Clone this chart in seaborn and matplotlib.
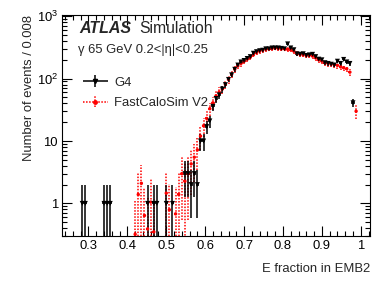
import numpy as np
import pandas as pd
import matplotlib as mpl
import matplotlib.pyplot as plt
plt.switch_backend('Agg')
import seaborn as sns
from matplotlib.lines import Line2D
from matplotlib.container import ErrorbarContainer
from matplotlib.legend_handler import HandlerErrorbar

# G4 histogram (bin centres, entries), bin width 0.008
g4_x = [0.284, 0.292, 0.340, 0.348, 0.356, 0.452, 0.468, 0.476, 0.500, 0.516,
        0.548, 0.556, 0.564, 0.572, 0.580, 0.588, 0.596, 0.604, 0.612, 0.620,
        0.628, 0.636, 0.644, 0.652, 0.660, 0.668, 0.676, 0.684, 0.692, 0.700,
        0.708, 0.716, 0.724, 0.732, 0.740, 0.748, 0.756, 0.764, 0.772, 0.780,
        0.788, 0.796, 0.804, 0.812, 0.820, 0.828, 0.836, 0.844, 0.852, 0.860,
        0.868, 0.876, 0.884, 0.892, 0.900, 0.908, 0.916, 0.924, 0.932, 0.940,
        0.948, 0.956, 0.964, 0.972, 0.980]
g4_y = [1, 1, 1, 1, 1, 1, 1, 1, 1, 1,
        3, 3, 2, 3, 2, 10, 10, 17, 21, 36,
        48, 55, 68, 80, 97, 115, 141, 165, 185, 195,
        210, 225, 255, 270, 280, 285, 300, 300, 310, 310,
        310, 305, 300, 360, 310, 290, 250, 245, 250, 235,
        240, 245, 225, 205, 200, 180, 175, 170, 165, 190,
        175, 203, 185, 175, 41]

# FastCaloSim V2 histogram (weighted)
fcs_x = [0.420, 0.428, 0.436, 0.444, 0.452, 0.460, 0.468, 0.500, 0.508, 0.524,
         0.532, 0.540, 0.548, 0.556, 0.564, 0.572, 0.580, 0.588, 0.596, 0.604,
         0.612, 0.620, 0.628, 0.636, 0.644, 0.652, 0.660, 0.668, 0.676, 0.684,
         0.692, 0.700, 0.708, 0.716, 0.724, 0.732, 0.740, 0.748, 0.756, 0.764,
         0.772, 0.780, 0.788, 0.796, 0.804, 0.812, 0.820, 0.828, 0.836, 0.844,
         0.852, 0.860, 0.868, 0.876, 0.884, 0.892, 0.900, 0.908, 0.916, 0.924,
         0.932, 0.940, 0.948, 0.956, 0.964, 0.972, 0.988]
fcs_y = [0.32, 1.39, 2.1, 0.64, 0.39, 1.05, 0.35, 1.46, 0.79, 0.68,
         1.39, 3.0, 2.27, 3.0, 4.3, 5.5, 7.2, 12, 17.6, 23,
         33, 41, 53, 61, 68, 81, 97, 117, 141, 160,
         175, 190, 205, 220, 240, 260, 275, 285, 295, 300,
         305, 310, 305, 300, 300, 295, 290, 275, 255, 245,
         240, 235, 238, 230, 215, 200, 190, 180, 175, 170,
         168, 163, 155, 150, 144, 127, 30]
fcs_weight = 2.0   # average event weight used for the stat. errors

g4 = pd.DataFrame({"x": g4_x, "y": g4_y})
g4["err"] = np.sqrt(g4["y"])
fcs = pd.DataFrame({"x": fcs_x, "y": fcs_y})
fcs["err"] = np.sqrt(fcs["y"] * fcs_weight)

sns.set_style("ticks")
plt.rcParams['font.family'] = ['Liberation Sans', 'DejaVu Sans']
plt.rcParams['mathtext.fontset'] = 'custom'
plt.rcParams['mathtext.rm'] = 'Liberation Sans'
plt.rcParams['mathtext.it'] = 'Liberation Sans:italic'

fs = 9.4

fig = plt.figure(figsize=(3.9, 2.81), dpi=100)
ax = fig.add_axes([0.159, 0.160, 0.790, 0.787])
ax.set_yscale('log')

def lower(df):
    return np.minimum(df["err"], df["y"] - 1e-4)

eb_fcs = ax.errorbar(fcs["x"], fcs["y"], yerr=[lower(fcs), fcs["err"]], xerr=0.004,
                     fmt='none', ecolor='red', elinewidth=1.1, zorder=2)
for c in eb_fcs[2]:
    c.set_linestyle((0, (1, 1)))
eb_g4 = ax.errorbar(g4["x"], g4["y"], yerr=[lower(g4), g4["err"]], xerr=0.004,
                    fmt='none', ecolor='black', elinewidth=1.1, zorder=3)

sns.scatterplot(ax=ax, data=fcs, x="x", y="y", marker='o', s=6, color='red',
                edgecolor='none', legend=False, zorder=4)
sns.scatterplot(ax=ax, data=g4, x="x", y="y", marker='v', s=13, color='black',
                edgecolor='none', legend=False, zorder=5)

ax.set_xlim(0.232, 1.024)
ax.set_ylim(0.3, 1050)
ax.xaxis.set_major_locator(mpl.ticker.MultipleLocator(0.1))
ax.xaxis.set_minor_locator(mpl.ticker.MultipleLocator(0.02))
ax.xaxis.set_major_formatter(mpl.ticker.FuncFormatter(lambda v, p: f"{v:g}"))
ax.yaxis.set_major_locator(mpl.ticker.LogLocator(base=10, numticks=10))
ax.yaxis.set_minor_locator(mpl.ticker.LogLocator(base=10, subs=np.arange(2, 10), numticks=20))
ax.yaxis.set_minor_formatter(mpl.ticker.NullFormatter())

def yfmt(v, p):
    e = int(round(np.log10(v)))
    return f"{int(round(v))}" if e < 2 else r"$\mathregular{10^{%d}}$" % e
ax.yaxis.set_major_formatter(mpl.ticker.FuncFormatter(yfmt))

ax.tick_params(which='both', direction='in', top=True, right=True, width=0.8,
               labelsize=fs, colors='black')
ax.tick_params(which='major', length=7)
ax.tick_params(which='minor', length=3.5)
ax.tick_params(axis='x', pad=3)
ax.tick_params(axis='y', pad=3)
for s in ax.spines.values():
    s.set_linewidth(0.8)
    s.set_color('black')

ax.set_xlabel("E fraction in EMB2", loc='right', fontsize=fs, labelpad=8)
ax.set_ylabel("Number of events / 0.008", loc='top', fontsize=fs, labelpad=1)

ax.text(0.055, 0.917, "ATLAS", transform=ax.transAxes, fontsize=11.5,
        fontweight='bold', fontstyle='italic')
ax.text(0.251, 0.917, "Simulation", transform=ax.transAxes, fontsize=11.3)
ax.text(0.053, 0.829, "γ 65 GeV 0.2<|η|<0.25", transform=ax.transAxes, fontsize=fs)

mk_g4 = Line2D([], [], marker='v', ls='none', color='black', markersize=3)
mk_fcs = Line2D([], [], marker='o', ls='none', color='red', markersize=2.5)
ax.legend([(eb_g4, mk_g4), (eb_fcs, mk_fcs)], ["G4", "FastCaloSim V2"],
          handler_map={ErrorbarContainer: HandlerErrorbar(xerr_size=0.95, yerr_size=0.45)},
          loc='upper left', bbox_to_anchor=(0.068, 0.722), frameon=False,
          fontsize=fs, handlelength=1.9, handletextpad=0.5, labelspacing=0.65,
          borderpad=0, borderaxespad=0)

plt.savefig("out.png", dpi=100)
